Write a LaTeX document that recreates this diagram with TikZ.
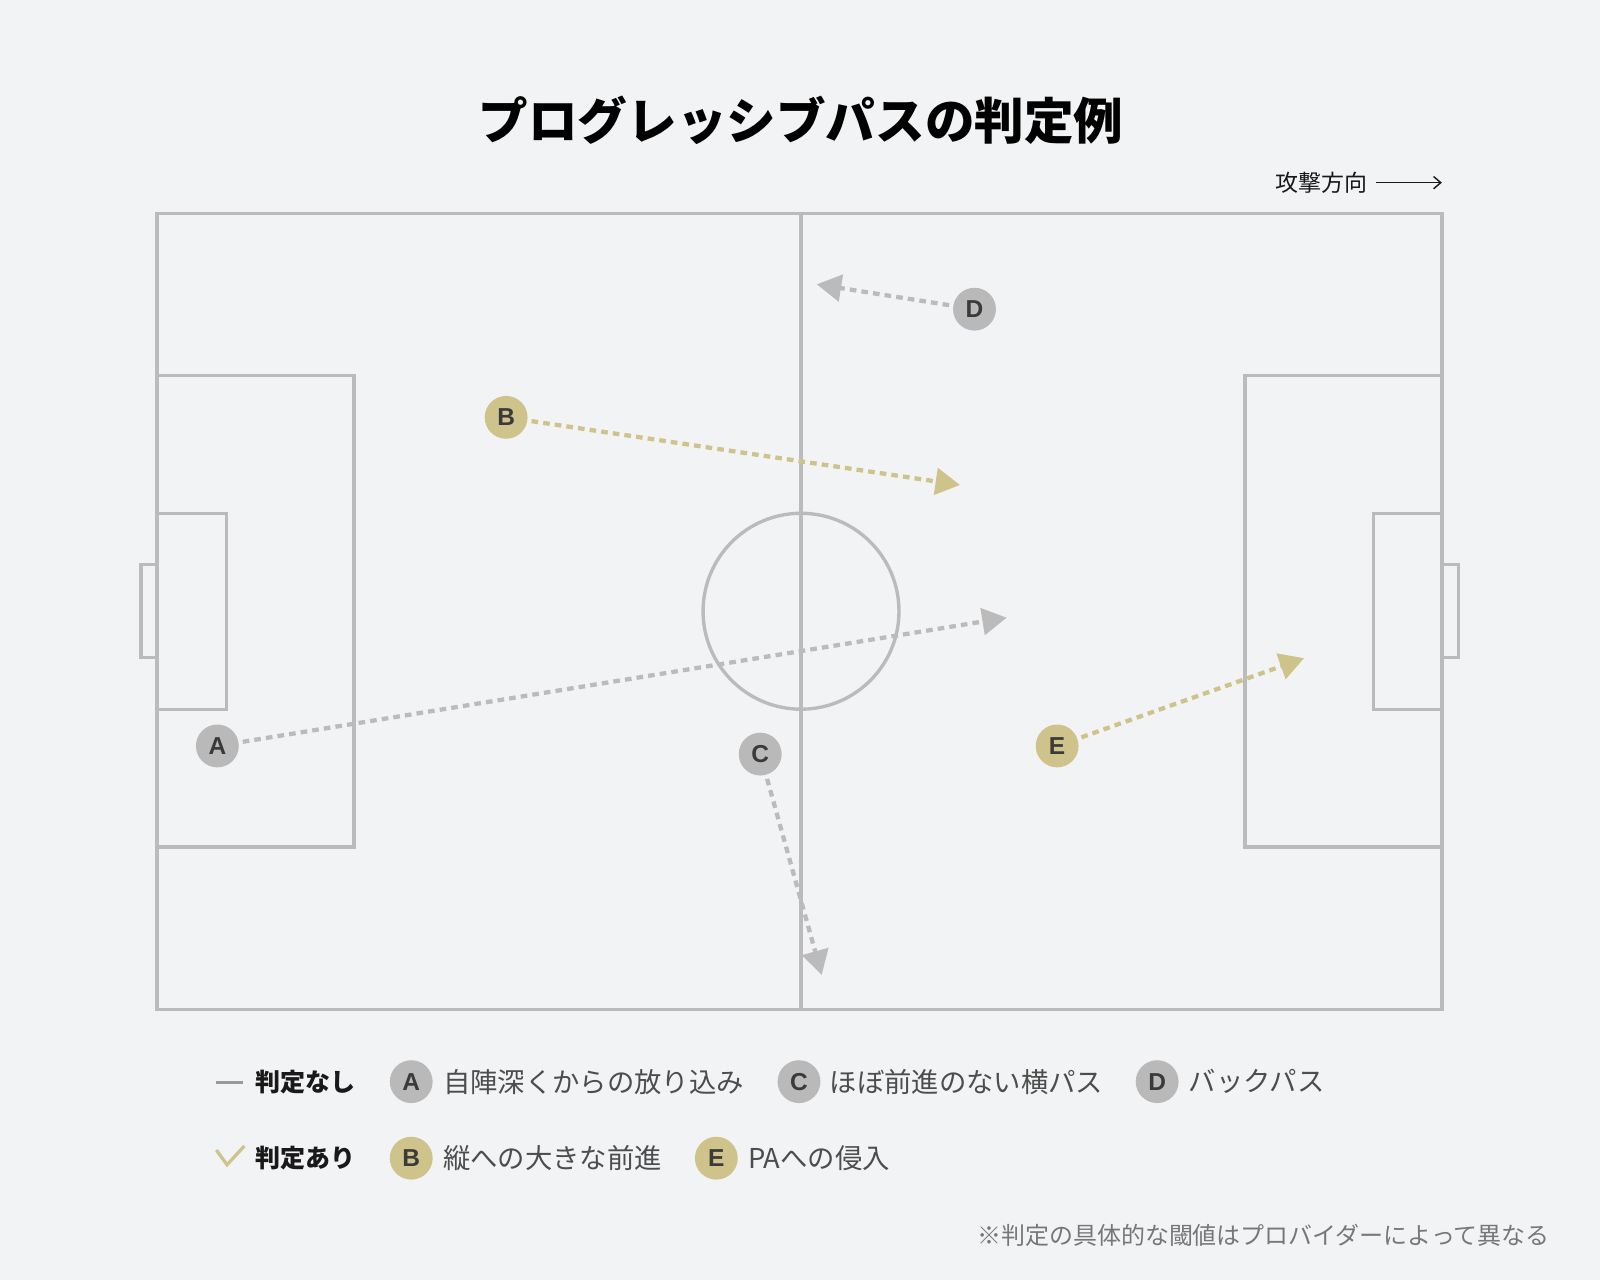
\documentclass[tikz,border=0pt]{standalone}
\usepackage{fontspec}
\setmainfont{Noto Sans CJK JP}
\newfontfamily\letfont{Liberation Sans}
\usetikzlibrary{arrows.meta}
\definecolor{bgc}{HTML}{F2F3F5}
\definecolor{linec}{HTML}{BBBBBB}
\definecolor{grayc}{HTML}{B9B9B9}
\definecolor{goldc}{HTML}{CFC38C}
\definecolor{lettc}{HTML}{3A3A3A}
\definecolor{descc}{HTML}{4D4D4D}
\definecolor{notec}{HTML}{777777}
\definecolor{legdash}{HTML}{999999}
\tikzset{
  pitchline/.style={draw=linec, line width=3.3pt},
  pc/.style={circle, minimum size=42pt, inner sep=0pt, text=lettc, font=\letfont\bfseries\fontsize{24}{24}\selectfont},
  pcg/.style={pc, fill=grayc},
  pcy/.style={pc, fill=goldc},
  pass/.style={line width=4.2pt, dash pattern=on 6.5pt off 5pt, shorten <=4pt, -{Triangle[length=24pt,width=26pt]}},
  passg/.style={pass, draw=linec, color=linec},
  passy/.style={pass, draw=goldc, color=goldc},
  desc/.style={anchor=west, inner sep=0pt, text=descc, font=\fontsize{26.8}{28}\selectfont},
  labf/.style={anchor=west, inner sep=0pt, text=black!90, font=\bfseries\fontsize{24.5}{26}\selectfont},
}
\begin{document}
\begin{tikzpicture}[x=1pt,y=-1pt]
\useasboundingbox[fill=bgc] (0,0) rectangle (1568,1254);
% title
\node[font=\bfseries\fontsize{48.6}{50}\selectfont, inner sep=0pt] (title) at (785,118) {プログレッシブパスの判定例};
% direction
\node[anchor=east, inner sep=0pt, font=\fontsize{22.5}{24}\selectfont, text=black!90] (dir) at (1340,179) {攻撃方向};
\coordinate (dirend) at (1413,179);
\draw[line width=1.4pt, black!90, shorten <=8pt, -{Straight Barb[length=7pt,width=12pt]}] (dir) -- (dirend);
% pitch
\draw[pitchline] (154,209) rectangle (1413,989);
\draw[pitchline] (785,209) -- (785,989);
\draw[pitchline] (785,599) circle[radius=96];
\draw[pitchline] (154,368) rectangle (347,830);
\draw[pitchline] (154,503) rectangle (222,695);
\draw[pitchline] (154,553.5) -- (138,553.5) -- (138,644.5) -- (154,644.5);
\draw[pitchline] (1413,368) rectangle (1220,830);
\draw[pitchline] (1413,503) rectangle (1346,695);
\draw[pitchline] (1413,553.5) -- (1429,553.5) -- (1429,644.5) -- (1413,644.5);
% passes
\coordinate (At) at (986.6,605.3);
\coordinate (Bt) at (940.8,475.3);
\coordinate (Ct) at (805.3,955.5);
\coordinate (Dt) at (800.4,278.6);
\coordinate (Et) at (1278,645);
\node[pcg] (A) at (213,731) {A};
\node[pcy] (B) at (496,409) {B};
\node[pcg] (C) at (745,739) {C};
\node[pcg] (D) at (955,303) {D};
\node[pcy] (E) at (1036,731) {E};
\draw[passg] (A) -- (At);
\draw[passy] (B) -- (Bt);
\draw[passg] (C) -- (Ct);
\draw[passg] (D) -- (Dt);
\draw[passy] (E) -- (Et);
% legend row 1
\coordinate (l1a) at (212,1061);
\coordinate (l1b) at (238,1061);
\draw[legdash, line width=3.5pt] (l1a) -- (l1b);
\node[labf] (lab1) at (250,1060) {判定なし};
\node[pcg] (LA) at (403,1060) {A};
\node[desc] (dA) at (434,1060) {自陣深くからの放り込み};
\node[pcg] (LC) at (783,1060) {C};
\node[desc] (dC) at (813,1060) {ほぼ前進のない横パス};
\node[pcg] (LD) at (1134,1060) {D};
\node[desc] (dD) at (1165,1060) {バックパス};
% legend row 2
\coordinate (k1) at (212,1127);
\coordinate (k2) at (222.5,1141.5);
\coordinate (k3) at (239.5,1123);
\draw[goldc, line width=3.2pt] (k1) -- (k2) -- (k3);
\node[labf] (lab2) at (250,1135) {判定あり};
\node[pcy] (LB) at (403,1135) {B};
\node[desc] (dB) at (434,1135) {縦への大きな前進};
\node[pcy] (LE) at (702,1135) {E};
\node[desc] (dE) at (733,1135) {PAへの侵入};
% footnote
\node[anchor=east, inner sep=0pt, text=notec, font=\fontsize{23.5}{25}\selectfont] (note) at (1519,1211) {※判定の具体的な閾値はプロバイダーによって異なる};
\end{tikzpicture}
\end{document}
